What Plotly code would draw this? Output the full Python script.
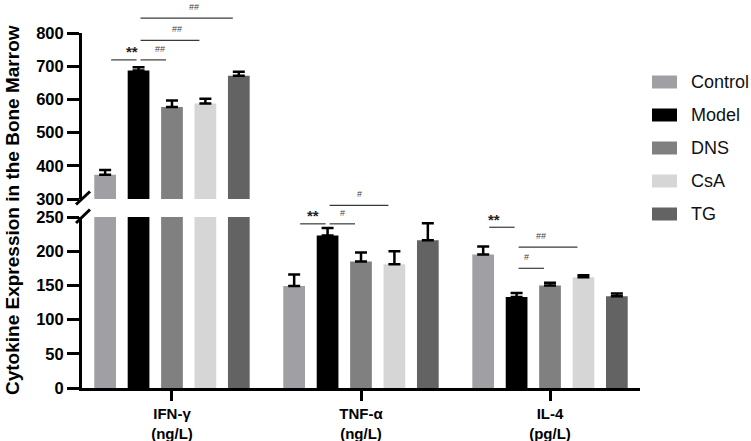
import plotly.graph_objects as go

# ---------------- data ----------------
categories = ["IFN-γ<br>(ng/L)", "TNF-α<br>(ng/L)", "IL-4<br>(pg/L)"]
groups = ["Control", "Model", "DNS", "CsA", "TG"]
colors = ["#A0A0A4", "#000000", "#808080", "#D6D6D6", "#636363"]

control = [373, 149, 195]
model = [687, 223, 133]
dns = [577, 185, 150]
csa = [588, 181, 162]
tg = [671, 216, 134]

control_err = [14, 17, 12]
model_err = [10, 11, 6]
dns_err = [20, 13, 4]
csa_err = [14, 19, 3]
tg_err = [12, 25, 4]

values = [control, model, dns, csa, tg]
errors = [control_err, model_err, dns_err, csa_err, tg_err]

# significance marks: (category index, left bar, right bar, level, axis, label)
sig_cat = [0, 0, 0, 0, 1, 1, 1, 2, 2, 2]
sig_left = [0, 1, 1, 1, 0, 1, 1, 0, 1, 1]
sig_right = [1, 2, 3, 4, 1, 2, 3, 1, 2, 3]
sig_level = [719, 719, 778, 845, 240, 240, 267, 235, 175, 206]
sig_axis = ["upper", "upper", "upper", "upper", "lower", "lower", "lower", "lower", "lower", "lower"]
sig_label = ["**", "##", "##", "##", "**", "#", "#", "**", "#", "##"]

lower_ticks = [0, 50, 100, 150, 200, 250]
upper_ticks = [300, 400, 500, 600, 700, 800]

# ---------------- layout constants ----------------
W, H = 751, 441
ML, MR, MT, MB = 82, 111, 33, 53
PW, PH = W - ML - MR, H - MT - MB
X_RANGE = [-0.476, 2.476]
BARGAP = 0.116
BARGROUPGAP = 0.35
LOW_DOM = [0, (H - MB - 217) / PH]
UP_DOM = [(H - MB - 199) / PH, 1]
LOW_RANGE = [0, 250]
UP_RANGE = [300, 800]
FONT = "Arial, 'Liberation Sans', sans-serif"


def px2paper_x(px):
    return (px - ML) / PW


def px2paper_y(py):
    return (H - MB - py) / PH


def datax2paper(x):
    return (x - X_RANGE[0]) / (X_RANGE[1] - X_RANGE[0])


def val2paper(v, axis):
    if axis == "upper":
        return UP_DOM[0] + (v - UP_RANGE[0]) / (UP_RANGE[1] - UP_RANGE[0]) * (UP_DOM[1] - UP_DOM[0])
    return LOW_DOM[0] + (v - LOW_RANGE[0]) / (LOW_RANGE[1] - LOW_RANGE[0]) * (LOW_DOM[1] - LOW_DOM[0])


slot = (1 - BARGAP) / len(groups)


def bar_center(cat, b):
    return cat + (b - (len(groups) - 1) / 2) * slot


fig = go.Figure()

for yax in ["y", "y2"]:
    for g, name in enumerate(groups):
        fig.add_trace(go.Bar(
            x=categories, y=values[g], name=name, yaxis=yax,
            marker=dict(color=colors[g], line=dict(width=0)),
            error_y=dict(type="data", symmetric=False, array=errors[g],
                         arrayminus=[0] * len(categories), color="black",
                         thickness=2.5, width=6),
            showlegend=False, cliponaxis=True, hoverinfo="skip",
        ))

shapes = []
annotations = []

# significance brackets
for c, l, r, lev, ax, lab in zip(sig_cat, sig_left, sig_right, sig_level, sig_axis, sig_label):
    x0 = datax2paper(bar_center(c, l)) + (6 if l == 0 else 2) / PW
    x1 = datax2paper(bar_center(c, r)) - (2 if r == 1 else 6) / PW
    yp = val2paper(lev, ax)
    shapes.append(dict(type="line", xref="paper", yref="paper", x0=x0, x1=x1, y0=yp, y1=yp,
                       line=dict(color="#3a3a3a", width=1.2)))
    if lab == "**":
        annotations.append(dict(xref="paper", yref="paper", x=(x0 + x1) / 2, y=yp, text="<b>**</b>",
                                showarrow=False, yanchor="middle", yshift=8,
                                font=dict(family=FONT, size=15, color="#222")))
    else:
        annotations.append(dict(xref="paper", yref="paper", x=(x0 + x1) / 2, y=yp, text=lab,
                                showarrow=False, yanchor="middle", yshift=11,
                                font=dict(family=FONT, size=9, color="#444")))

# axis break marks
for (xa, ya, xb, yb) in [(76, 204.5, 90, 191.5), (76, 223, 90, 209.5)]:
    shapes.append(dict(type="line", xref="paper", yref="paper",
                       x0=px2paper_x(xa), y0=px2paper_y(ya), x1=px2paper_x(xb), y1=px2paper_y(yb),
                       line=dict(color="black", width=3)))

# custom legend
leg_y = [82, 115, 148, 181, 214]
for g, name in enumerate(groups):
    yc = leg_y[g]
    shapes.append(dict(type="rect", xref="paper", yref="paper",
                       x0=px2paper_x(652), x1=px2paper_x(677),
                       y0=px2paper_y(yc + 6.5), y1=px2paper_y(yc - 6.5),
                       fillcolor=colors[g], line=dict(width=0)))
    annotations.append(dict(xref="paper", yref="paper", x=px2paper_x(689), y=px2paper_y(yc),
                            text=name, showarrow=False, xanchor="left", yanchor="middle",
                            font=dict(family=FONT, size=18, color="#111")))

# y-axis title
annotations.append(dict(xref="paper", yref="paper", x=px2paper_x(12), y=px2paper_y(210),
                        text="<b>Cytokine Expression in the Bone Marrow</b>", textangle=-90,
                        showarrow=False, xanchor="center", yanchor="middle",
                        font=dict(family=FONT, size=19, color="black")))

axis_common = dict(showline=True, linecolor="black", linewidth=3, ticks="outside",
                   tickwidth=3, tickcolor="black", showgrid=False, zeroline=False,
                   automargin=False,
                   tickfont=dict(family=FONT, size=16.5, color="black"))

fig.update_layout(
    width=W, height=H,
    margin=dict(l=ML, r=MR, t=MT, b=MB, pad=0, autoexpand=False),
    paper_bgcolor="white", plot_bgcolor="white",
    barmode="group", bargap=BARGAP, bargroupgap=BARGROUPGAP,
    showlegend=False,
    xaxis=dict(type="category", categoryorder="array", categoryarray=categories,
               range=X_RANGE, showline=True, linecolor="black", linewidth=3,
               ticks="outside", ticklen=10, tickwidth=3, tickcolor="black",
               automargin=False,
               showgrid=False, zeroline=False,
               tickfont=dict(family=FONT, size=15, color="black"),
               tickprefix="<b>", ticksuffix="</b>"),
    yaxis=dict(domain=LOW_DOM, range=LOW_RANGE, tickvals=lower_ticks,
               ticktext=[f"<b>{t}</b>" for t in lower_ticks], ticklen=12, anchor="x",
               **axis_common),
    yaxis2=dict(domain=UP_DOM, range=UP_RANGE, tickvals=upper_ticks,
                ticktext=[f"<b>{t}</b>" for t in upper_ticks], ticklen=12, anchor="x",
                **axis_common),
    shapes=shapes,
    annotations=annotations,
)

fig.write_html("out.html", config={"displayModeBar": False},
               post_script="document.body.style.margin='0px';document.body.style.overflow='hidden';")
